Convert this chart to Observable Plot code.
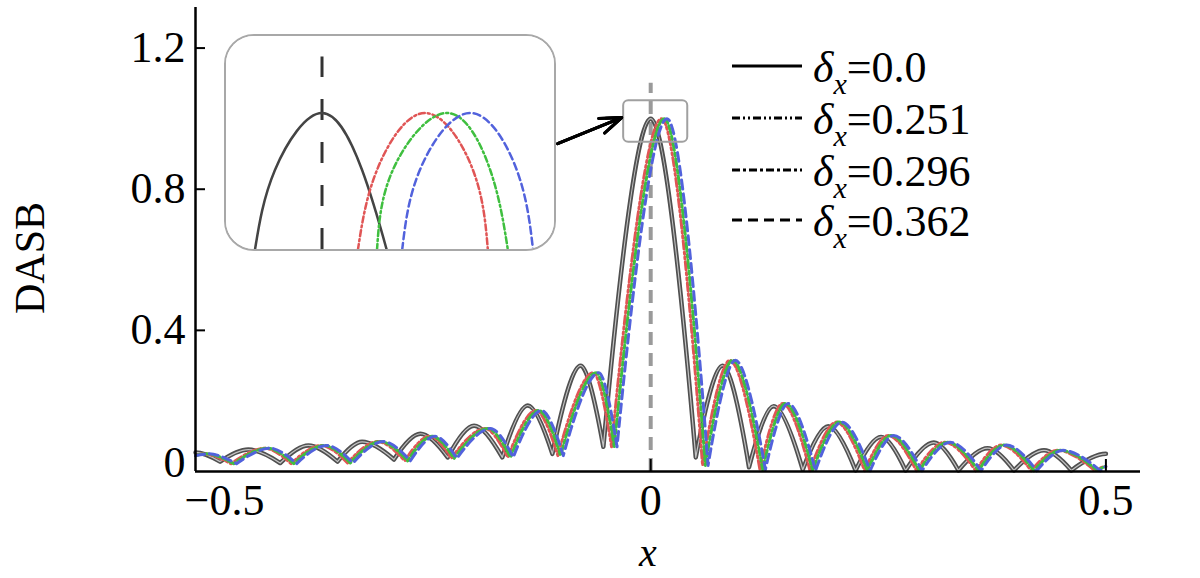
<!DOCTYPE html>
<html>
<head>
<meta charset="utf-8">
<script src="https://cdn.jsdelivr.net/npm/d3@7"></script>
<script src="https://cdn.jsdelivr.net/npm/@observablehq/plot@0.6"></script>
<style>
  html, body { margin: 0; padding: 0; background: #fff; }
  #wrap { position: relative; width: 1200px; height: 578px; overflow: hidden; }
  #main { position: absolute; left: 0; top: 0; }
  #inset { position: absolute; left: 224px; top: 34px; width: 328px; height: 213px;
           border: 2.5px solid #a8a8a8; border-radius: 30px; overflow: hidden; background: #fff; }
  #overlay { position: absolute; left: 0; top: 0; pointer-events: none; }
</style>
</head>
<body>
<div id="wrap">
  <div id="main"></div>
  <div id="inset"></div>
  <svg id="overlay" width="1200" height="578"></svg>
</div>
<script>
// ---- data (extrema of each curve: x position, DASB value) ----
const xBlack = [-0.5, -0.473, -0.442, -0.407, -0.376, -0.344, -0.317, -0.282, -0.253, -0.223, -0.194, -0.163, -0.135, -0.108, -0.077, -0.052, 0, 0.0495, 0.079, 0.108, 0.135, 0.167, 0.195, 0.225, 0.253, 0.280, 0.311, 0.338, 0.370, 0.399, 0.432, 0.462, 0.5];
const yBlack = [0.054, 0.028, 0.062, 0.024, 0.074, 0.028, 0.084, 0.034, 0.107, 0.040, 0.130, 0.040, 0.187, 0.050, 0.300, 0.070, 1.000, 0.040, 0.300, 0.012, 0.185, 0.005, 0.128, 0.003, 0.098, 0.003, 0.082, 0.003, 0.066, 0.003, 0.060, 0.003, 0.050];

const xRed   = [-0.5, -0.491, -0.461, -0.424, -0.395, -0.362, -0.333, -0.300, -0.270, -0.243, -0.219, -0.182, -0.157, -0.126, -0.102, -0.063, -0.043, 0.012, 0.057, 0.087, 0.120, 0.145, 0.175, 0.204, 0.235, 0.261, 0.292, 0.323, 0.357, 0.385, 0.418, 0.447, 0.488, 0.5];
const xGreen = [-0.5, -0.488, -0.458, -0.421, -0.392, -0.359, -0.330, -0.297, -0.267, -0.240, -0.216, -0.179, -0.154, -0.123, -0.099, -0.060, -0.040, 0.015, 0.060, 0.090, 0.123, 0.148, 0.178, 0.207, 0.238, 0.264, 0.295, 0.326, 0.360, 0.388, 0.421, 0.450, 0.491, 0.5];
const xBlue  = [-0.5, -0.485, -0.455, -0.418, -0.389, -0.356, -0.327, -0.294, -0.264, -0.237, -0.213, -0.176, -0.151, -0.120, -0.096, -0.057, -0.037, 0.018, 0.063, 0.093, 0.126, 0.151, 0.181, 0.210, 0.241, 0.267, 0.298, 0.329, 0.363, 0.391, 0.424, 0.453, 0.494, 0.5];
const yShifted = [0.045, 0.050, 0.022, 0.066, 0.022, 0.074, 0.024, 0.085, 0.030, 0.100, 0.037, 0.122, 0.040, 0.173, 0.045, 0.280, 0.070, 1.000, 0.017, 0.315, 0.005, 0.193, 0.002, 0.140, 0.002, 0.102, 0.002, 0.083, 0.002, 0.075, 0.002, 0.060, 0.002, 0.014];

// zoomed inset (peak region)
const insetXBlack = [-0.0144, -0.0101, 0, 0.0086, 0.0139];
const insetXRed   = [0.0077, 0.0118, 0.0221, 0.0324, 0.0356];
const insetXGreen = [0.0118, 0.0152, 0.0268, 0.0361, 0.0399];
const insetXBlue  = [0.0172, 0.0210, 0.0318, 0.0418, 0.0453];
const insetY      = [0.875, 0.948, 1.0, 0.948, 0.875];

// legend and ticks
const deltaLabels = ["0.0", "0.251", "0.296", "0.362"];
const yTicks = [0.4, 0.8, 1.2];
const xTicks = [0, 0.5];

// annotation
const zoomBox = [{x1: -0.0297, x2: 0.0407, y1: 0.933, y2: 1.051}];
const pointer = [{x1: -0.1022, y1: 0.929, x2: -0.0319, y2: 1.003}];

// ---- styles ----
const colors = {red: "#e05555", green: "#3fbf3f", blue: "#5262dc"};
const legendDash = [null, "8,3,2,3,2,3", "8,3,3,3", "10,6"];

const toRows = (xs, ys) => xs.map((x, i) => ({x, y: ys[i]}));
const fmt = d => d === 0 ? "0" : String(d).replace("-", "\u2212");

// curve drawing each lobe with horizontal tangent at peaks
function lobeCurve(context) {
  let pts = [];
  return {
    areaStart() {}, areaEnd() {},
    lineStart() { pts = []; },
    point(x, y) { pts.push([+x, +y]); },
    lineEnd() {
      if (!pts.length) return;
      context.moveTo(pts[0][0], pts[0][1]);
      for (let i = 1; i < pts.length; ++i) {
        const [x0, y0] = pts[i - 1], [x1, y1] = pts[i];
        if (y1 < y0) context.quadraticCurveTo(x0 + 0.64 * (x1 - x0), y1, x1, y1);
        else context.quadraticCurveTo(x0 + 0.36 * (x1 - x0), y0, x1, y1);
      }
    }
  };
}

const font = "Liberation Serif, Times New Roman, serif";
const fs = 44;

const main = Plot.plot({
  width: 1200, height: 578,
  marginLeft: 195, marginRight: 60, marginTop: 7, marginBottom: 107,
  x: {domain: [-0.5, 0.538]},
  y: {domain: [0, 1.315]},
  style: {fontFamily: font, background: "transparent", color: "black"},
  marks: [
    Plot.ruleX([0], {y1: 0, y2: 1.1, stroke: "#9a9a9a", strokeWidth: 4, strokeDasharray: "13,8"}),
    Plot.line(toRows(xBlack, yBlack), {x: "x", y: "y", curve: lobeCurve, stroke: "#505050", strokeWidth: 4.5}),
    Plot.line(toRows(xBlack, yBlack), {x: "x", y: "y", curve: lobeCurve, stroke: "#c4c4c4", strokeWidth: 1.2}),
    Plot.line(toRows(xRed, yShifted), {x: "x", y: "y", curve: lobeCurve, stroke: colors.red, strokeWidth: 3, strokeDasharray: "8,3,2,3,2,3"}),
    Plot.line(toRows(xGreen, yShifted), {x: "x", y: "y", curve: lobeCurve, stroke: colors.green, strokeWidth: 3, strokeDasharray: "8,3,3,3"}),
    Plot.line(toRows(xBlue, yShifted), {x: "x", y: "y", curve: lobeCurve, stroke: colors.blue, strokeWidth: 3, strokeDasharray: "9,5"}),
    Plot.rect(zoomBox, {x1: "x1", x2: "x2", y1: "y1", y2: "y2", fill: "none", stroke: "#a0a0a0", strokeWidth: 2, rx: 5}),
    Plot.arrow(pointer, {x1: "x1", y1: "y1", x2: "x2", y2: "y2", stroke: "black", strokeWidth: 3, headLength: 20, headAngle: 40}),
    Plot.arrow(pointer, {x1: "x1", y1: "y1", x2: "x2", y2: "y2", stroke: "black", strokeWidth: 3, headLength: 14, headAngle: 40}),
    Plot.arrow(pointer, {x1: "x1", y1: "y1", x2: "x2", y2: "y2", stroke: "black", strokeWidth: 3, headLength: 8, headAngle: 40}),
    Plot.ruleY([0], {stroke: "black", strokeWidth: 2.5}),
    Plot.ruleX([-0.5], {stroke: "black", strokeWidth: 2.5}),
    Plot.axisY(yTicks, {tickSize: -10, tickPadding: 20, strokeWidth: 2, fontSize: fs, fontFamily: font, tickFormat: fmt, label: null}),
    Plot.axisY([0], {tickSize: 0, tickPadding: 10, dy: -9, fontSize: fs, fontFamily: font, tickFormat: fmt, label: null}),
    Plot.axisX(xTicks, {tickSize: -12, tickPadding: 24, strokeWidth: 2, fontSize: fs, fontFamily: font, tickFormat: fmt, label: null}),
    Plot.axisX([-0.5], {tickSize: 0, tickPadding: 12, dx: 29, fontSize: fs, fontFamily: font, tickFormat: fmt, label: null})
  ]
});
document.getElementById("main").appendChild(main);

const inset = Plot.plot({
  width: 328, height: 213,
  margin: 0,
  x: {domain: [-0.0205, 0.0499], axis: null},
  y: {domain: [0.8755, 1.0698], axis: null},
  style: {background: "white"},
  marks: [
    Plot.ruleX([0], {y1: 0.8755, y2: 1.051, stroke: "#333", strokeWidth: 3, strokeDasharray: "21,22"}),
    Plot.line(toRows(insetXBlack, insetY), {x: "x", y: "y", curve: "natural", stroke: "#444", strokeWidth: 2.5}),
    Plot.line(toRows(insetXRed, insetY), {x: "x", y: "y", curve: "natural", stroke: colors.red, strokeWidth: 2.5, strokeDasharray: "6,3,2,3"}),
    Plot.line(toRows(insetXGreen, insetY), {x: "x", y: "y", curve: "natural", stroke: colors.green, strokeWidth: 2.5, strokeDasharray: "6,3,2,3"}),
    Plot.line(toRows(insetXBlue, insetY), {x: "x", y: "y", curve: "natural", stroke: colors.blue, strokeWidth: 2.5, strokeDasharray: "7,4"})
  ]
});
document.getElementById("inset").appendChild(inset);

// ---- legend and axis titles ----
const ov = d3.select("#overlay");
const baselines = [82, 134, 186, 236];
deltaLabels.forEach((lab, i) => {
  const b = baselines[i];
  ov.append("line").attr("x1", 732).attr("x2", 802).attr("y1", b - 16).attr("y2", b - 16)
    .attr("stroke", "black").attr("stroke-width", 3)
    .attr("stroke-dasharray", legendDash[i]);
  const t = ov.append("text").attr("x", 813).attr("y", b)
    .attr("font-family", font).attr("font-size", 44).attr("fill", "black");
  t.append("tspan").attr("font-style", "italic").text("δ");
  t.append("tspan").attr("font-style", "italic").attr("font-size", 30).attr("dy", 12).text("x");
  t.append("tspan").attr("dy", -12).text("=" + lab);
});
ov.append("text").attr("transform", "translate(44,258) rotate(-90)")
  .attr("text-anchor", "middle").attr("font-family", font).attr("font-size", 42).text("DASB");
ov.append("text").attr("x", 648).attr("y", 566).attr("text-anchor", "middle")
  .attr("font-family", font).attr("font-style", "italic").attr("font-size", 40).text("x");
</script>
</body>
</html>
